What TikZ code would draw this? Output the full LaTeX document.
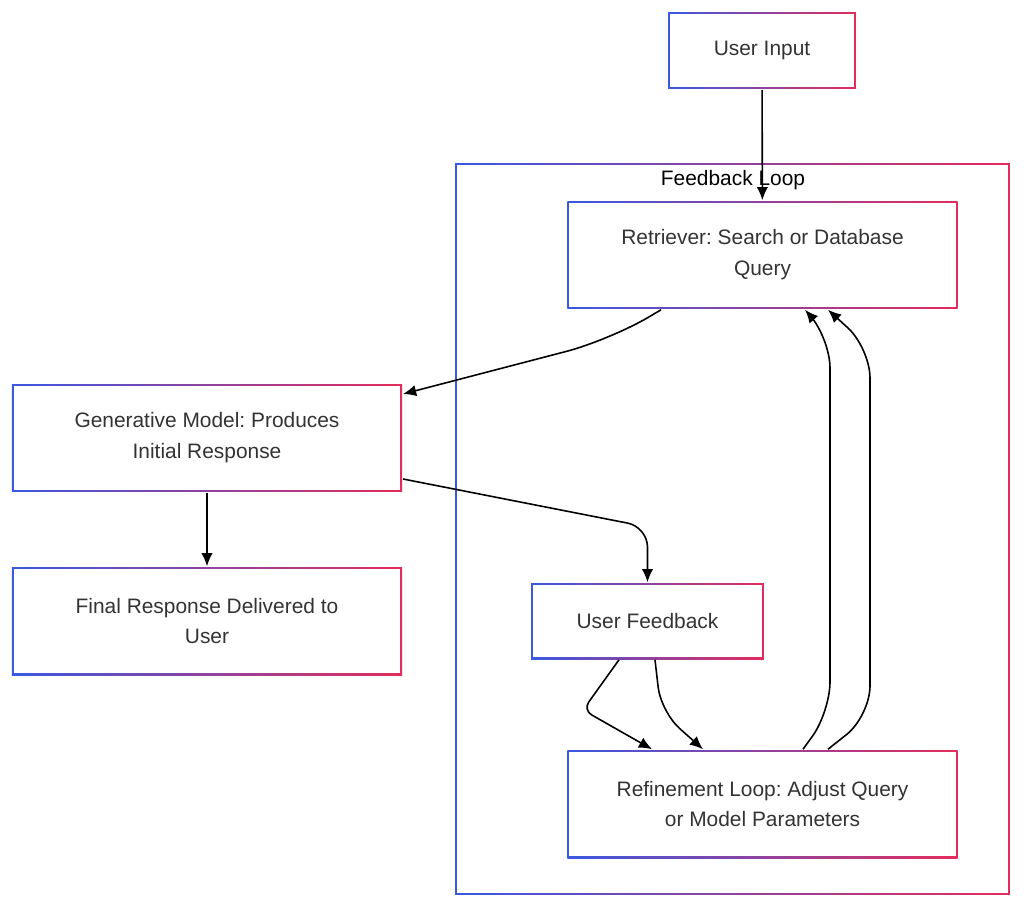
\documentclass[tikz,border=0pt]{standalone}
\usepackage{fontspec}
\setmainfont{Liberation Sans}
\usetikzlibrary{arrows.meta}
\definecolor{bl}{RGB}{58,88,226}
\definecolor{rd}{RGB}{228,44,92}
\definecolor{txt}{RGB}{51,51,51}
\frenchspacing
\begin{document}
\begin{tikzpicture}[x=0.02cm,y=-0.02cm,line width=0.9pt,
    >={Latex[length=7.5pt,width=6.5pt]},
    gbox/.style={draw=none,text=txt,align=center,inner sep=0pt,
      font=\fontsize{11.9}{17.6}\selectfont,
      path picture={
        \shade[left color=bl,right color=rd]
          (path picture bounding box.south west) rectangle
          (path picture bounding box.north east);
        \fill[white]
          ([shift={(1.1pt,1.1pt)}]path picture bounding box.south west) rectangle
          ([shift={(-1.1pt,-1.1pt)}]path picture bounding box.north east);}},
    wide/.style={gbox,minimum width=7.81cm,minimum height=2.16cm}
    ]
  \useasboundingbox (0,0) rectangle (1024,910);

  \node[gbox,minimum width=11.1cm,minimum height=14.64cm] (loop) at (732.5,529) {};
  \node[font=\fontsize{11.9}{14}\selectfont] (lbl) at (733,180) {Feedback Loop};

  \node[gbox,minimum width=3.76cm,minimum height=1.54cm] (ui) at (762,50.5) {User Input};
  \node[wide] (ret) at (762.5,255) {Retriever: Search or Database\\Query};
  \node[wide] (gen) at (207,438) {Generative Model: Produces\\Initial Response};
  \node[wide] (fin) at (207,621) {Final Response Delivered to\\User};
  \node[gbox,minimum width=4.66cm,minimum height=1.52cm] (fb) at (647.5,621) {User Feedback};
  \node[wide] (ref) at (762.5,804) {Refinement Loop: Adjust Query\\or Model Parameters};

  \draw[->] (ui) -- (ret);
  \draw[->,rounded corners=0.9cm] ([xshift=-2.03cm]ret.south) -- (610,340) -- ([yshift=0.88cm]gen.east);
  \draw[->,rounded corners=0.4cm] ([yshift=-0.82cm]gen.east) -- (647.5,527) -- (fb);
  \draw[->] (gen) -- (fin);
  \draw[->,rounded corners=0.2cm] ([xshift=-0.57cm]fb.south) -- (583,710) -- ([xshift=-2.21cm]ref.north);
  \draw[->,rounded corners=0.5cm] ([xshift=0.15cm]fb.south) -- (661,712) -- ([xshift=-1.19cm]ref.north);
  \draw[->,rounded corners=0.6cm] ([xshift=0.81cm]ref.north) -- (830,712) -- (830,338) -- ([xshift=0.85cm]ret.south);
  \draw[->,rounded corners=0.6cm] ([xshift=1.31cm]ref.north) -- (870,716) -- (870,348) -- ([xshift=1.31cm]ret.south);
\end{tikzpicture}
\end{document}
